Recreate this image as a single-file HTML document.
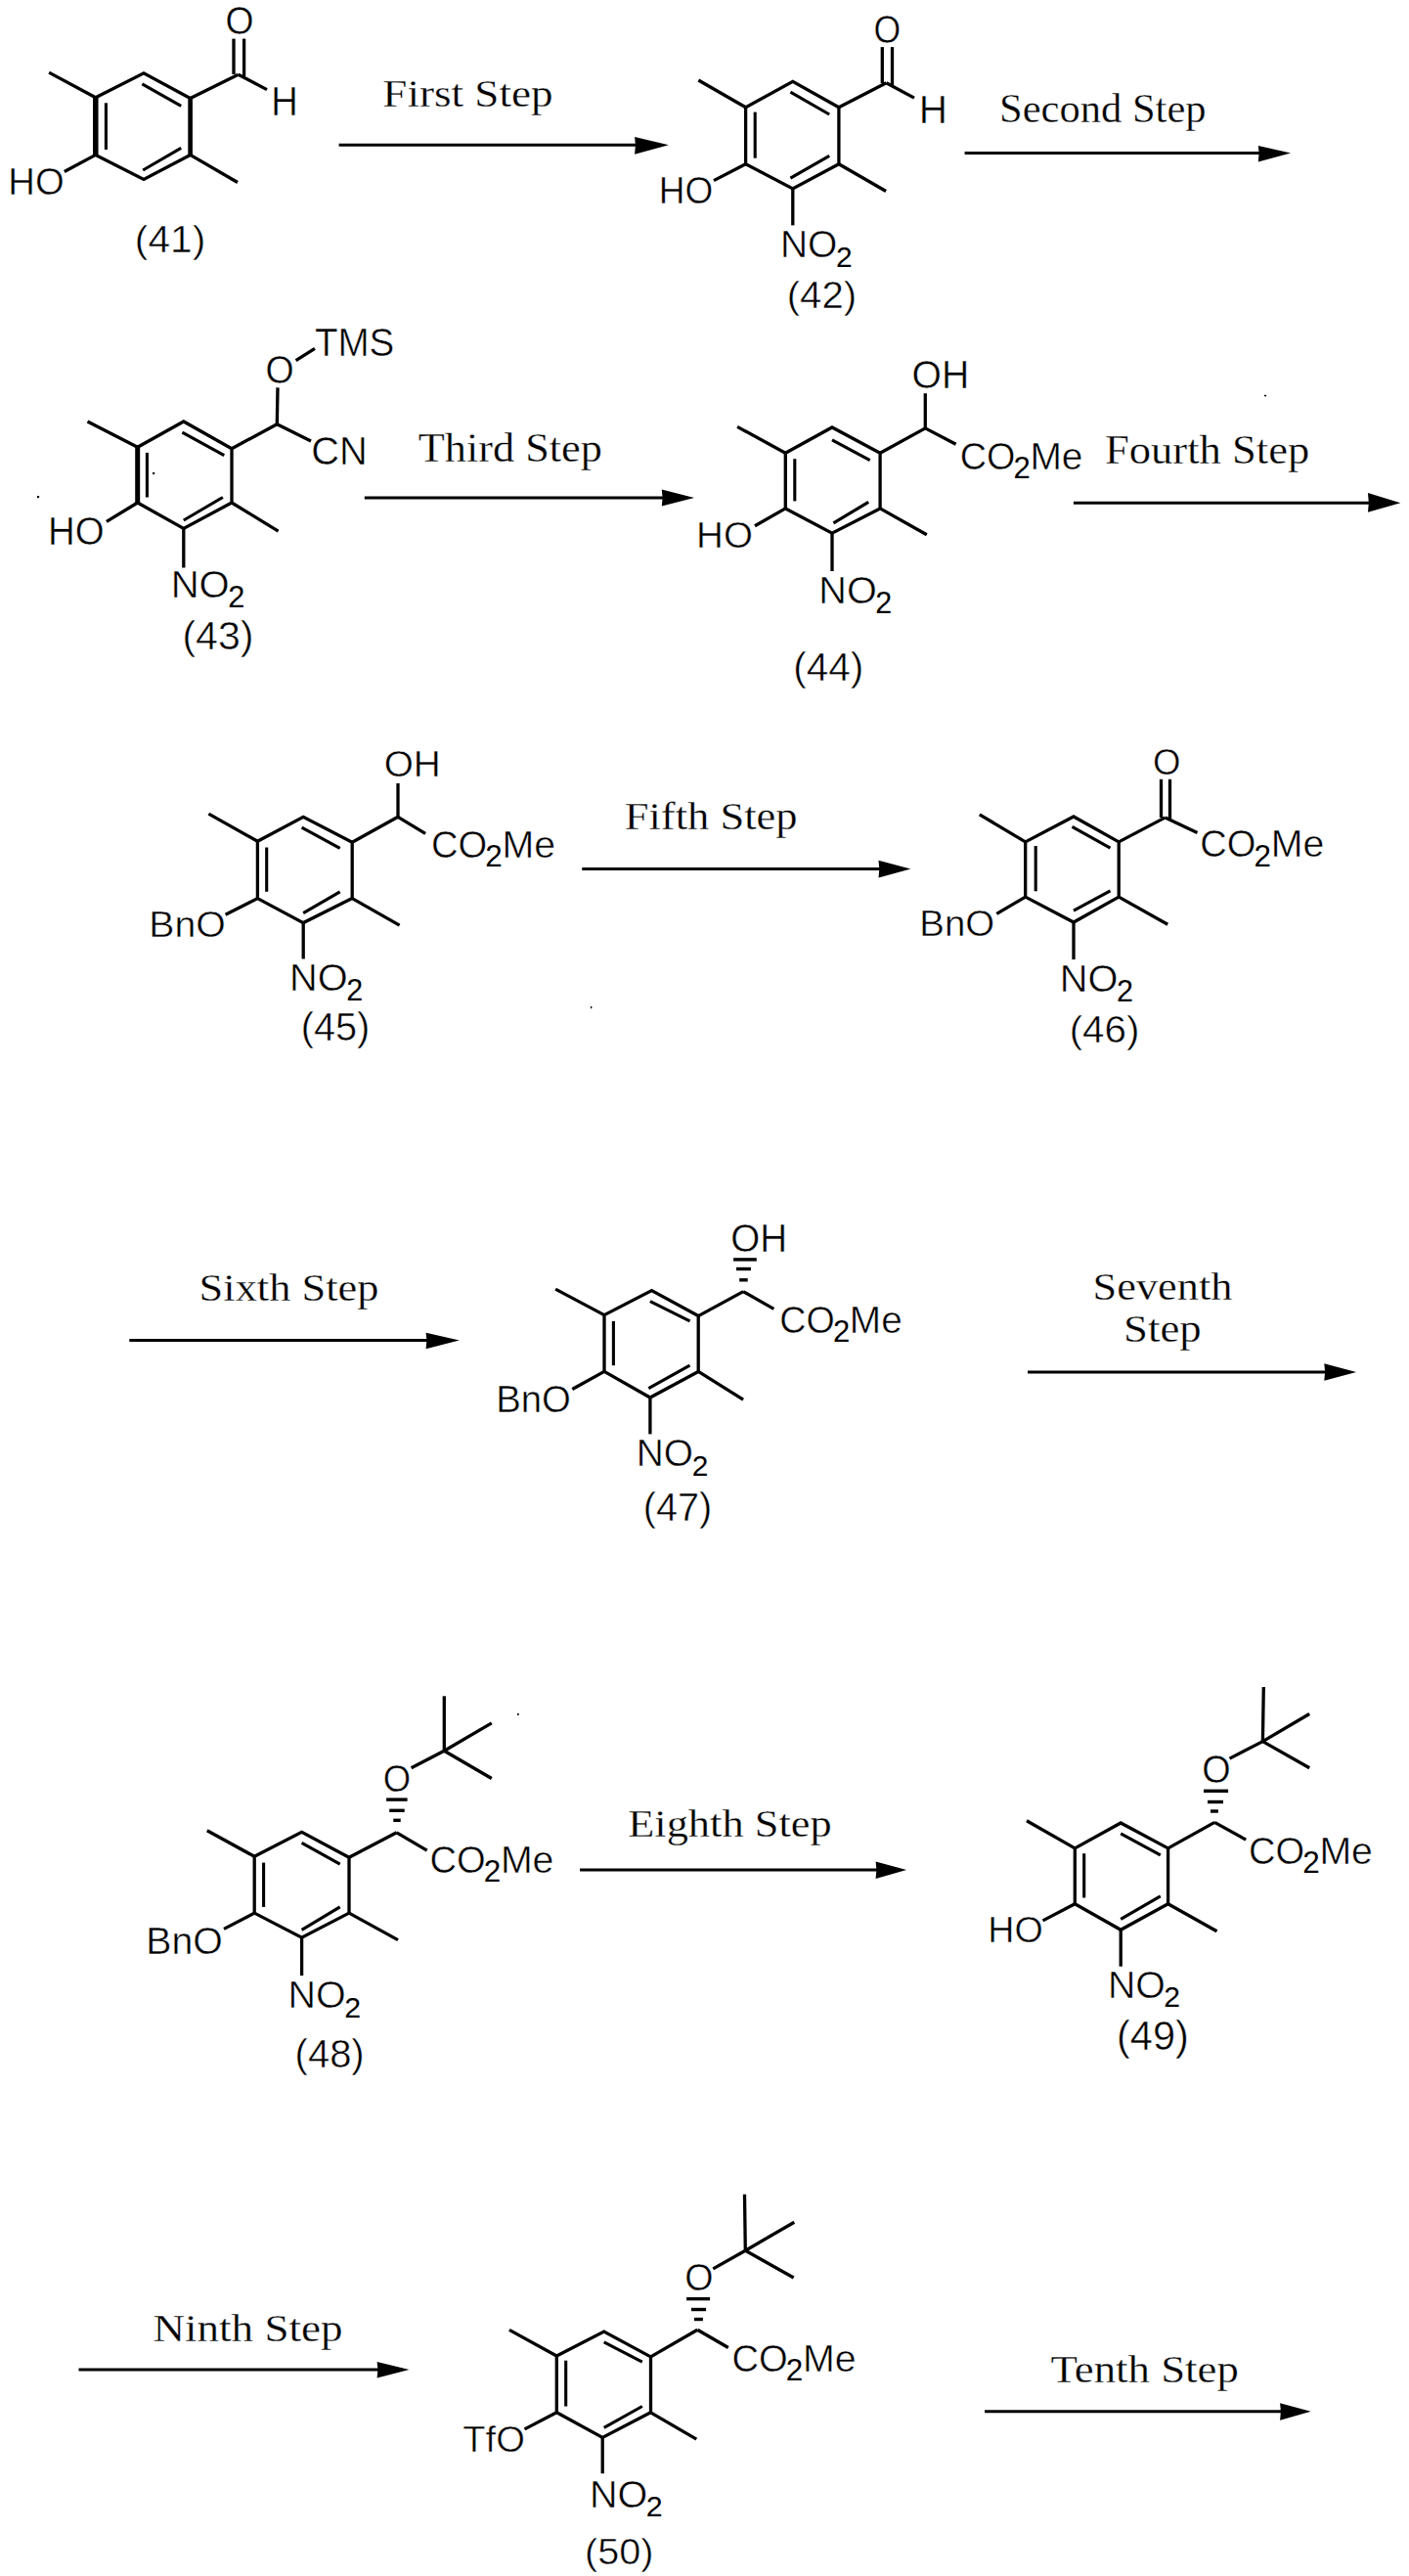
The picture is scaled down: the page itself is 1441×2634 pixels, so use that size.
<!DOCTYPE html>
<html><head><meta charset="utf-8"><style>
html,body{margin:0;padding:0;background:#fff;}
svg{display:block;}
line,path{stroke:#000;stroke-linecap:butt;}
path.ah{fill:#000;stroke:none;} path.ring{fill:none;}
text{fill:#000;}
</style></head><body>
<svg width="1441" height="2634" viewBox="0 0 1441 2634">
<rect width="1441" height="2634" fill="#fff"/>
<path class="ring" fill="none" stroke-linejoin="miter" d="M97.8,99.8 L147.0,74.8 L194.6,100.6 L194.6,158.4 L147.0,183.4 L97.8,158.4 Z" stroke-width="3.3"/>
<line x1="108.4" y1="105.3" x2="108.4" y2="153.0" stroke-width="3.1"/>
<line x1="145.4" y1="85.8" x2="185.2" y2="108.4" stroke-width="3.1"/>
<line x1="146.2" y1="174.0" x2="185.2" y2="151.4" stroke-width="3.1"/>
<line x1="97.8" y1="99.8" x2="50.1" y2="74.1" stroke-width="3.3"/>
<line x1="194.6" y1="100.6" x2="243.7" y2="76.2" stroke-width="3.3"/>
<line x1="239.0" y1="76.0" x2="239.0" y2="39.6" stroke-width="3.3"/>
<line x1="249.6" y1="78.0" x2="249.6" y2="39.6" stroke-width="3.3"/>
<line x1="243.7" y1="76.2" x2="273.0" y2="91.6" stroke-width="3.3"/>
<line x1="194.6" y1="158.4" x2="243.0" y2="186.5" stroke-width="3.3"/>
<line x1="97.8" y1="158.4" x2="65.8" y2="175.5" stroke-width="3.3"/>
<text x="230.43" y="35.39" font-family="Liberation Sans" stroke="#fff" stroke-width="0.5" font-size="41.52" textLength="29.06" lengthAdjust="spacingAndGlyphs">O</text>
<text x="277.17" y="118.40" font-family="Liberation Sans" stroke="#fff" stroke-width="0.5" font-size="42.73" textLength="27.54" lengthAdjust="spacingAndGlyphs">H</text>
<text x="8.36" y="198.91" font-family="Liberation Sans" stroke="#fff" stroke-width="0.5" font-size="39.69" textLength="57.37" lengthAdjust="spacingAndGlyphs">HO</text>
<text x="137.88" y="258.36" font-family="Liberation Sans" stroke="#fff" stroke-width="0.5" font-size="38.86" textLength="72.35" lengthAdjust="spacingAndGlyphs">(41)</text>
<line x1="346.6" y1="148.3" x2="653.1" y2="148.3" stroke-width="3.0"/>
<path class="ah" d="M649.1,139.9 L683.9,148.3 L649.1,157.8 L649.9,148.3 Z" stroke="none"/>
<text x="391.30" y="108.50" font-family="Liberation Serif" stroke="#fff" stroke-width="0.3" font-size="40.12" textLength="174.26" lengthAdjust="spacingAndGlyphs">First Step</text>
<path class="ring" fill="none" stroke-linejoin="miter" d="M762.6,109.8 L810.8,83.3 L857.9,109.8 L857.9,167.7 L810.8,193.0 L762.6,167.7 Z" stroke-width="3.3"/>
<line x1="772.2" y1="114.6" x2="772.2" y2="161.7" stroke-width="3.1"/>
<line x1="808.4" y1="94.1" x2="848.2" y2="117.0" stroke-width="3.1"/>
<line x1="808.4" y1="182.2" x2="848.2" y2="159.3" stroke-width="3.1"/>
<line x1="762.6" y1="109.8" x2="714.3" y2="82.0" stroke-width="3.3"/>
<line x1="857.9" y1="109.8" x2="906.4" y2="84.7" stroke-width="3.3"/>
<line x1="902.3" y1="85.0" x2="902.3" y2="48.1" stroke-width="3.3"/>
<line x1="912.5" y1="87.0" x2="912.5" y2="48.1" stroke-width="3.3"/>
<line x1="906.4" y1="84.7" x2="935.0" y2="100.1" stroke-width="3.3"/>
<line x1="857.9" y1="167.7" x2="906.1" y2="195.5" stroke-width="3.3"/>
<line x1="762.6" y1="167.7" x2="730.0" y2="184.6" stroke-width="3.3"/>
<line x1="810.8" y1="193.0" x2="810.8" y2="230.4" stroke-width="3.3"/>
<text x="893.61" y="43.51" font-family="Liberation Sans" stroke="#fff" stroke-width="0.5" font-size="40.40" textLength="27.69" lengthAdjust="spacingAndGlyphs">O</text>
<text x="939.68" y="125.60" font-family="Liberation Sans" stroke="#fff" stroke-width="0.5" font-size="40.12" textLength="29.22" lengthAdjust="spacingAndGlyphs">H</text>
<text x="673.86" y="207.63" font-family="Liberation Sans" stroke="#fff" stroke-width="0.5" font-size="38.14" textLength="55.51" lengthAdjust="spacingAndGlyphs">HO</text>
<text x="798.01" y="263.20" font-family="Liberation Sans" stroke="#fff" stroke-width="0.5" font-size="38.36" textLength="58.39" lengthAdjust="spacingAndGlyphs">NO</text>
<text x="854.95" y="272.79" font-family="Liberation Sans" font-size="29.93">2</text>
<text x="804.71" y="315.36" font-family="Liberation Sans" stroke="#fff" stroke-width="0.5" font-size="38.86" textLength="71.38" lengthAdjust="spacingAndGlyphs">(42)</text>
<line x1="986.6" y1="156.6" x2="1290.8" y2="156.6" stroke-width="3.0"/>
<path class="ah" d="M1286.8,149.0 L1320.0,156.6 L1286.8,165.6 L1287.6,156.6 Z" stroke="none"/>
<text x="1022.05" y="124.70" font-family="Liberation Serif" stroke="#fff" stroke-width="0.3" font-size="42.07" textLength="211.51" lengthAdjust="spacingAndGlyphs">Second Step</text>
<path class="ring" fill="none" stroke-linejoin="miter" d="M140.7,457.3 L187.8,431.0 L237.0,458.7 L237.0,514.0 L187.8,540.4 L140.7,514.0 Z" stroke-width="3.3"/>
<line x1="150.4" y1="462.9" x2="150.4" y2="508.5" stroke-width="3.1"/>
<line x1="186.4" y1="442.1" x2="229.3" y2="465.6" stroke-width="3.1"/>
<line x1="187.8" y1="532.0" x2="227.9" y2="508.5" stroke-width="3.1"/>
<line x1="140.7" y1="457.3" x2="89.5" y2="431.0" stroke-width="3.3"/>
<line x1="237.0" y1="458.7" x2="283.3" y2="433.8" stroke-width="3.3"/>
<line x1="283.3" y1="433.8" x2="284.0" y2="396.4" stroke-width="3.3"/>
<line x1="302.6" y1="368.7" x2="322.0" y2="356.3" stroke-width="3.3"/>
<line x1="283.3" y1="433.8" x2="318.0" y2="451.0" stroke-width="3.3"/>
<line x1="237.0" y1="514.0" x2="284.6" y2="543.1" stroke-width="3.3"/>
<line x1="140.7" y1="514.0" x2="108.9" y2="533.4" stroke-width="3.3"/>
<line x1="187.8" y1="540.4" x2="187.8" y2="580.5" stroke-width="3.3"/>
<text x="271.52" y="391.90" font-family="Liberation Sans" stroke="#fff" stroke-width="0.5" font-size="41.38" textLength="29.17" lengthAdjust="spacingAndGlyphs">O</text>
<text x="321.93" y="364.21" font-family="Liberation Sans" stroke="#fff" stroke-width="0.5" font-size="39.83" textLength="81.44" lengthAdjust="spacingAndGlyphs">TMS</text>
<text x="318.18" y="475.00" font-family="Liberation Sans" stroke="#fff" stroke-width="0.5" font-size="40.68" textLength="57.46" lengthAdjust="spacingAndGlyphs">CN</text>
<text x="48.95" y="556.60" font-family="Liberation Sans" stroke="#fff" stroke-width="0.5" font-size="41.10" textLength="57.59" lengthAdjust="spacingAndGlyphs">HO</text>
<text x="174.72" y="611.32" font-family="Liberation Sans" stroke="#fff" stroke-width="0.5" font-size="39.42" textLength="60.01" lengthAdjust="spacingAndGlyphs">NO</text>
<text x="233.23" y="621.17" font-family="Liberation Sans" font-size="30.76">2</text>
<text x="186.45" y="663.51" font-family="Liberation Sans" stroke="#fff" stroke-width="0.5" font-size="40.04" textLength="73.10" lengthAdjust="spacingAndGlyphs">(43)</text>
<line x1="372.8" y1="508.9" x2="680.8" y2="508.9" stroke-width="3.0"/>
<path class="ah" d="M676.8,500.5 L710.0,508.9 L676.8,517.6 L677.6,508.9 Z" stroke="none"/>
<text x="427.70" y="472.40" font-family="Liberation Serif" stroke="#fff" stroke-width="0.3" font-size="42.07" textLength="188.23" lengthAdjust="spacingAndGlyphs">Third Step</text>
<path class="ring" fill="none" stroke-linejoin="miter" d="M803.3,463.3 L851.0,437.0 L900.1,463.3 L900.1,519.9 L851.0,545.2 L803.3,519.9 Z" stroke-width="3.3"/>
<line x1="812.8" y1="469.2" x2="812.8" y2="512.4" stroke-width="3.1"/>
<line x1="851.0" y1="449.9" x2="889.7" y2="470.7" stroke-width="3.1"/>
<line x1="852.4" y1="534.8" x2="888.2" y2="513.3" stroke-width="3.1"/>
<line x1="803.3" y1="463.3" x2="754.1" y2="436.4" stroke-width="3.3"/>
<line x1="900.1" y1="463.3" x2="946.3" y2="437.9" stroke-width="3.3"/>
<line x1="946.3" y1="437.9" x2="946.3" y2="402.2" stroke-width="3.3"/>
<line x1="946.3" y1="437.9" x2="977.6" y2="454.3" stroke-width="3.3"/>
<line x1="900.1" y1="519.9" x2="947.8" y2="546.7" stroke-width="3.3"/>
<line x1="803.3" y1="519.9" x2="772.0" y2="537.8" stroke-width="3.3"/>
<line x1="851.0" y1="545.2" x2="851.0" y2="584.0" stroke-width="3.3"/>
<text x="932.55" y="397.31" font-family="Liberation Sans" stroke="#fff" stroke-width="0.5" font-size="39.97" textLength="58.64" lengthAdjust="spacingAndGlyphs">OH</text>
<text x="981.68" y="479.64" font-family="Liberation Sans" stroke="#fff" stroke-width="0.5" font-size="38.91" textLength="56.65" lengthAdjust="spacingAndGlyphs">CO</text>
<text x="1036.52" y="488.74" font-family="Liberation Sans" font-size="31.13">2</text>
<text x="1053.46" y="479.64" font-family="Liberation Sans" stroke="#fff" stroke-width="0.5" font-size="38.92">Me</text>
<text x="712.14" y="559.73" font-family="Liberation Sans" stroke="#fff" stroke-width="0.5" font-size="37.85" textLength="57.81" lengthAdjust="spacingAndGlyphs">HO</text>
<text x="837.25" y="616.85" font-family="Liberation Sans" stroke="#fff" stroke-width="0.5" font-size="39.09" textLength="59.50" lengthAdjust="spacingAndGlyphs">NO</text>
<text x="895.27" y="626.62" font-family="Liberation Sans" font-size="30.50">2</text>
<text x="811.18" y="696.41" font-family="Liberation Sans" stroke="#fff" stroke-width="0.5" font-size="40.04" textLength="72.13" lengthAdjust="spacingAndGlyphs">(44)</text>
<line x1="1097.9" y1="514.3" x2="1403.0" y2="514.3" stroke-width="3.0"/>
<path class="ah" d="M1399.0,504.0 L1432.3,514.3 L1399.0,523.8 L1399.8,514.3 Z" stroke="none"/>
<text x="1129.92" y="473.80" font-family="Liberation Serif" stroke="#fff" stroke-width="0.3" font-size="42.22" textLength="209.33" lengthAdjust="spacingAndGlyphs">Fourth Step</text>
<path class="ring" fill="none" stroke-linejoin="miter" d="M263.4,860.2 L310.2,835.3 L360.2,861.2 L360.2,918.6 L310.2,943.6 L263.4,918.6 Z" stroke-width="3.3"/>
<line x1="272.7" y1="866.5" x2="272.7" y2="911.8" stroke-width="3.1"/>
<line x1="308.6" y1="846.2" x2="347.7" y2="867.4" stroke-width="3.1"/>
<line x1="310.2" y1="933.6" x2="347.7" y2="911.8" stroke-width="3.1"/>
<line x1="263.4" y1="860.2" x2="213.4" y2="832.1" stroke-width="3.3"/>
<line x1="360.2" y1="861.2" x2="407.0" y2="835.3" stroke-width="3.3"/>
<line x1="407.0" y1="835.3" x2="407.0" y2="800.9" stroke-width="3.3"/>
<line x1="407.0" y1="835.3" x2="435.1" y2="852.4" stroke-width="3.3"/>
<line x1="360.2" y1="918.6" x2="408.6" y2="946.1" stroke-width="3.3"/>
<line x1="263.4" y1="918.6" x2="230.6" y2="935.2" stroke-width="3.3"/>
<line x1="310.2" y1="943.6" x2="310.2" y2="980.5" stroke-width="3.3"/>
<text x="392.67" y="794.33" font-family="Liberation Sans" stroke="#fff" stroke-width="0.5" font-size="37.57" textLength="58.09" lengthAdjust="spacingAndGlyphs">OH</text>
<text x="440.96" y="876.87" font-family="Liberation Sans" stroke="#fff" stroke-width="0.5" font-size="39.29" textLength="57.21" lengthAdjust="spacingAndGlyphs">CO</text>
<text x="496.34" y="886.07" font-family="Liberation Sans" font-size="31.44">2</text>
<text x="513.45" y="876.87" font-family="Liberation Sans" stroke="#fff" stroke-width="0.5" font-size="39.30">Me</text>
<text x="152.38" y="958.23" font-family="Liberation Sans" stroke="#fff" stroke-width="0.5" font-size="37.57" textLength="78.50" lengthAdjust="spacingAndGlyphs">BnO</text>
<text x="296.04" y="1013.47" font-family="Liberation Sans" stroke="#fff" stroke-width="0.5" font-size="39.14" textLength="59.58" lengthAdjust="spacingAndGlyphs">NO</text>
<text x="354.14" y="1023.26" font-family="Liberation Sans" font-size="30.54">2</text>
<text x="307.74" y="1064.27" font-family="Liberation Sans" stroke="#fff" stroke-width="0.5" font-size="40.25" textLength="70.52" lengthAdjust="spacingAndGlyphs">(45)</text>
<line x1="595.3" y1="888.5" x2="902.5" y2="888.5" stroke-width="3.0"/>
<path class="ah" d="M898.5,879.8 L931.3,888.5 L898.5,897.4 L899.3,888.5 Z" stroke="none"/>
<text x="638.72" y="848.30" font-family="Liberation Serif" stroke="#fff" stroke-width="0.3" font-size="40.57" textLength="176.82" lengthAdjust="spacingAndGlyphs">Fifth Step</text>
<path class="ring" fill="none" stroke-linejoin="miter" d="M1048.7,860.9 L1098.0,835.0 L1144.2,860.9 L1144.2,917.1 L1098.0,943.0 L1048.7,917.1 Z" stroke-width="3.3"/>
<line x1="1059.2" y1="865.0" x2="1059.2" y2="911.3" stroke-width="3.1"/>
<line x1="1096.5" y1="845.3" x2="1135.5" y2="867.1" stroke-width="3.1"/>
<line x1="1098.0" y1="931.1" x2="1135.5" y2="910.8" stroke-width="3.1"/>
<line x1="1048.7" y1="860.9" x2="1001.8" y2="832.8" stroke-width="3.3"/>
<line x1="1144.2" y1="860.9" x2="1191.7" y2="835.9" stroke-width="3.3"/>
<line x1="1187.5" y1="836.0" x2="1187.5" y2="796.8" stroke-width="3.3"/>
<line x1="1196.5" y1="838.0" x2="1196.5" y2="796.8" stroke-width="3.3"/>
<line x1="1191.7" y1="835.9" x2="1224.5" y2="851.5" stroke-width="3.3"/>
<line x1="1144.2" y1="917.1" x2="1194.2" y2="945.2" stroke-width="3.3"/>
<line x1="1048.7" y1="917.1" x2="1019.3" y2="934.3" stroke-width="3.3"/>
<line x1="1098.0" y1="943.0" x2="1098.0" y2="981.1" stroke-width="3.3"/>
<text x="1179.07" y="791.83" font-family="Liberation Sans" stroke="#fff" stroke-width="0.5" font-size="37.57" textLength="28.49" lengthAdjust="spacingAndGlyphs">O</text>
<text x="1227.26" y="876.41" font-family="Liberation Sans" stroke="#fff" stroke-width="0.5" font-size="39.26" textLength="57.16" lengthAdjust="spacingAndGlyphs">CO</text>
<text x="1282.59" y="885.60" font-family="Liberation Sans" font-size="31.41">2</text>
<text x="1299.69" y="876.41" font-family="Liberation Sans" stroke="#fff" stroke-width="0.5" font-size="39.27">Me</text>
<text x="940.25" y="957.33" font-family="Liberation Sans" stroke="#fff" stroke-width="0.5" font-size="37.57" textLength="76.89" lengthAdjust="spacingAndGlyphs">BnO</text>
<text x="1083.84" y="1014.14" font-family="Liberation Sans" stroke="#fff" stroke-width="0.5" font-size="39.20" textLength="59.67" lengthAdjust="spacingAndGlyphs">NO</text>
<text x="1142.02" y="1023.94" font-family="Liberation Sans" font-size="30.58">2</text>
<text x="1093.70" y="1065.77" font-family="Liberation Sans" stroke="#fff" stroke-width="0.5" font-size="39.29" textLength="71.70" lengthAdjust="spacingAndGlyphs">(46)</text>
<line x1="132.3" y1="1370.6" x2="439.6" y2="1370.6" stroke-width="3.0"/>
<path class="ah" d="M435.6,1362.7 L469.8,1370.6 L435.6,1379.3 L436.4,1370.6 Z" stroke="none"/>
<text x="203.63" y="1330.40" font-family="Liberation Serif" stroke="#fff" stroke-width="0.3" font-size="39.22" textLength="183.80" lengthAdjust="spacingAndGlyphs">Sixth Step</text>
<path class="ring" fill="none" stroke-linejoin="miter" d="M618.0,1344.6 L666.5,1319.6 L714.2,1345.6 L714.2,1402.4 L664.9,1429.0 L618.0,1402.4 Z" stroke-width="3.3"/>
<line x1="627.4" y1="1350.9" x2="627.4" y2="1396.2" stroke-width="3.1"/>
<line x1="664.9" y1="1330.6" x2="705.5" y2="1350.9" stroke-width="3.1"/>
<line x1="663.3" y1="1419.6" x2="705.5" y2="1396.2" stroke-width="3.1"/>
<line x1="618.0" y1="1344.6" x2="568.1" y2="1318.1" stroke-width="3.3"/>
<line x1="714.2" y1="1345.6" x2="760.1" y2="1320.6" stroke-width="3.3"/>
<rect x="750.1" y="1286.2" width="23.7" height="3.4"/>
<rect x="753.0" y="1295.8" width="14.9" height="3.4"/>
<rect x="756.2" y="1307.1" width="8.5" height="3.4"/>
<line x1="760.1" y1="1320.6" x2="791.4" y2="1338.4" stroke-width="3.3"/>
<line x1="714.2" y1="1402.4" x2="760.1" y2="1431.1" stroke-width="3.3"/>
<line x1="618.0" y1="1402.4" x2="585.3" y2="1420.5" stroke-width="3.3"/>
<line x1="664.9" y1="1429.0" x2="664.9" y2="1466.4" stroke-width="3.3"/>
<text x="747.27" y="1279.70" font-family="Liberation Sans" stroke="#fff" stroke-width="0.5" font-size="41.10" textLength="57.87" lengthAdjust="spacingAndGlyphs">OH</text>
<text x="797.29" y="1363.15" font-family="Liberation Sans" stroke="#fff" stroke-width="0.5" font-size="38.78" textLength="56.47" lengthAdjust="spacingAndGlyphs">CO</text>
<text x="851.94" y="1372.22" font-family="Liberation Sans" font-size="31.03">2</text>
<text x="868.83" y="1363.15" font-family="Liberation Sans" stroke="#fff" stroke-width="0.5" font-size="38.79">Me</text>
<text x="507.15" y="1444.21" font-family="Liberation Sans" stroke="#fff" stroke-width="0.5" font-size="39.69" textLength="76.78" lengthAdjust="spacingAndGlyphs">BnO</text>
<text x="650.81" y="1499.13" font-family="Liberation Sans" stroke="#fff" stroke-width="0.5" font-size="38.30" textLength="58.31" lengthAdjust="spacingAndGlyphs">NO</text>
<text x="707.67" y="1508.71" font-family="Liberation Sans" font-size="29.89">2</text>
<text x="657.74" y="1554.89" font-family="Liberation Sans" stroke="#fff" stroke-width="0.5" font-size="40.14" textLength="70.52" lengthAdjust="spacingAndGlyphs">(47)</text>
<line x1="1051.0" y1="1402.9" x2="1358.3" y2="1402.9" stroke-width="3.0"/>
<path class="ah" d="M1354.3,1394.2 L1387.1,1402.9 L1354.3,1411.8 L1355.1,1402.9 Z" stroke="none"/>
<text x="1117.64" y="1328.60" font-family="Liberation Serif" stroke="#fff" stroke-width="0.3" font-size="40.57" textLength="142.75" lengthAdjust="spacingAndGlyphs">Seventh</text>
<text x="1149.10" y="1372.40" font-family="Liberation Serif" stroke="#fff" stroke-width="0.3" font-size="39.97" textLength="79.65" lengthAdjust="spacingAndGlyphs">Step</text>
<path class="ring" fill="none" stroke-linejoin="miter" d="M260.2,1898.3 L308.6,1873.4 L357.0,1899.3 L357.0,1956.1 L308.6,1981.1 L260.2,1956.1 Z" stroke-width="3.3"/>
<line x1="269.6" y1="1904.6" x2="269.6" y2="1949.9" stroke-width="3.1"/>
<line x1="308.6" y1="1884.3" x2="347.7" y2="1906.2" stroke-width="3.1"/>
<line x1="308.6" y1="1973.3" x2="347.7" y2="1949.9" stroke-width="3.1"/>
<line x1="260.2" y1="1898.3" x2="211.8" y2="1871.8" stroke-width="3.3"/>
<line x1="357.0" y1="1899.3" x2="405.7" y2="1873.8" stroke-width="3.3"/>
<rect x="395.1" y="1838.4" width="21.5" height="3.4"/>
<rect x="398.2" y="1849.6" width="15.5" height="3.4"/>
<rect x="402.3" y="1859.6" width="7.4" height="3.4"/>
<line x1="420.6" y1="1807.8" x2="454.3" y2="1790.2" stroke-width="3.3"/>
<line x1="454.3" y1="1790.2" x2="454.3" y2="1734.3" stroke-width="3.3"/>
<line x1="454.3" y1="1790.2" x2="502.8" y2="1761.9" stroke-width="3.3"/>
<line x1="454.3" y1="1790.2" x2="502.8" y2="1818.5" stroke-width="3.3"/>
<line x1="405.7" y1="1873.8" x2="436.7" y2="1892.1" stroke-width="3.3"/>
<line x1="357.0" y1="1956.1" x2="407.0" y2="1983.6" stroke-width="3.3"/>
<line x1="260.2" y1="1956.1" x2="229.0" y2="1972.4" stroke-width="3.3"/>
<line x1="308.6" y1="1981.1" x2="308.6" y2="2020.1" stroke-width="3.3"/>
<text x="391.87" y="1832.32" font-family="Liberation Sans" stroke="#fff" stroke-width="0.5" font-size="38.98" textLength="28.37" lengthAdjust="spacingAndGlyphs">O</text>
<text x="439.46" y="1914.96" font-family="Liberation Sans" stroke="#fff" stroke-width="0.5" font-size="39.26" textLength="57.16" lengthAdjust="spacingAndGlyphs">CO</text>
<text x="494.79" y="1924.15" font-family="Liberation Sans" font-size="31.41">2</text>
<text x="511.89" y="1914.96" font-family="Liberation Sans" stroke="#fff" stroke-width="0.5" font-size="39.27">Me</text>
<text x="149.28" y="1997.91" font-family="Liberation Sans" stroke="#fff" stroke-width="0.5" font-size="39.69" textLength="78.50" lengthAdjust="spacingAndGlyphs">BnO</text>
<text x="294.46" y="2053.02" font-family="Liberation Sans" stroke="#fff" stroke-width="0.5" font-size="38.86" textLength="59.16" lengthAdjust="spacingAndGlyphs">NO</text>
<text x="352.15" y="2062.74" font-family="Liberation Sans" font-size="30.32">2</text>
<text x="301.62" y="2113.89" font-family="Liberation Sans" stroke="#fff" stroke-width="0.5" font-size="40.14" textLength="71.06" lengthAdjust="spacingAndGlyphs">(48)</text>
<line x1="593.1" y1="1911.9" x2="899.6" y2="1911.9" stroke-width="3.0"/>
<path class="ah" d="M895.6,1903.5 L927.1,1911.9 L895.6,1921.1 L896.4,1911.9 Z" stroke="none"/>
<text x="642.22" y="1878.30" font-family="Liberation Serif" stroke="#fff" stroke-width="0.3" font-size="40.12" textLength="208.41" lengthAdjust="spacingAndGlyphs">Eighth Step</text>
<path class="ring" fill="none" stroke-linejoin="miter" d="M1099.3,1889.9 L1146.2,1864.0 L1194.6,1889.9 L1194.6,1946.7 L1146.2,1973.3 L1099.3,1946.7 Z" stroke-width="3.3"/>
<line x1="1108.7" y1="1895.2" x2="1108.7" y2="1940.5" stroke-width="3.1"/>
<line x1="1146.2" y1="1874.9" x2="1186.8" y2="1896.8" stroke-width="3.1"/>
<line x1="1146.2" y1="1962.3" x2="1186.8" y2="1938.9" stroke-width="3.1"/>
<line x1="1099.3" y1="1889.9" x2="1050.0" y2="1861.8" stroke-width="3.3"/>
<line x1="1194.6" y1="1889.9" x2="1242.2" y2="1863.4" stroke-width="3.3"/>
<rect x="1231.0" y="1829.6" width="25.1" height="3.4"/>
<rect x="1235.0" y="1840.8" width="16.0" height="3.4"/>
<rect x="1238.0" y="1850.3" width="7.9" height="3.4"/>
<line x1="1257.5" y1="1798.1" x2="1291.4" y2="1780.6" stroke-width="3.3"/>
<line x1="1291.4" y1="1780.6" x2="1292.3" y2="1725.0" stroke-width="3.3"/>
<line x1="1291.4" y1="1780.6" x2="1339.2" y2="1752.5" stroke-width="3.3"/>
<line x1="1291.4" y1="1780.6" x2="1339.2" y2="1807.7" stroke-width="3.3"/>
<line x1="1242.2" y1="1863.4" x2="1274.2" y2="1881.1" stroke-width="3.3"/>
<line x1="1194.6" y1="1946.7" x2="1244.5" y2="1974.8" stroke-width="3.3"/>
<line x1="1099.3" y1="1946.7" x2="1066.5" y2="1963.9" stroke-width="3.3"/>
<line x1="1146.2" y1="1973.3" x2="1146.2" y2="2010.7" stroke-width="3.3"/>
<text x="1229.21" y="1823.19" font-family="Liberation Sans" stroke="#fff" stroke-width="0.5" font-size="41.52" textLength="29.40" lengthAdjust="spacingAndGlyphs">O</text>
<text x="1276.96" y="1905.56" font-family="Liberation Sans" stroke="#fff" stroke-width="0.5" font-size="39.26" textLength="57.16" lengthAdjust="spacingAndGlyphs">CO</text>
<text x="1332.29" y="1914.75" font-family="Liberation Sans" font-size="31.41">2</text>
<text x="1349.39" y="1905.56" font-family="Liberation Sans" stroke="#fff" stroke-width="0.5" font-size="39.27">Me</text>
<text x="1010.31" y="1986.34" font-family="Liberation Sans" stroke="#fff" stroke-width="0.5" font-size="36.58" textLength="56.49" lengthAdjust="spacingAndGlyphs">HO</text>
<text x="1132.98" y="2042.75" font-family="Liberation Sans" stroke="#fff" stroke-width="0.5" font-size="38.64" textLength="58.82" lengthAdjust="spacingAndGlyphs">NO</text>
<text x="1190.34" y="2052.41" font-family="Liberation Sans" font-size="30.15">2</text>
<text x="1142.02" y="2095.73" font-family="Liberation Sans" stroke="#fff" stroke-width="0.5" font-size="41.86" textLength="73.85" lengthAdjust="spacingAndGlyphs">(49)</text>
<line x1="80.5" y1="2423.0" x2="389.6" y2="2423.0" stroke-width="3.0"/>
<path class="ah" d="M385.6,2415.1 L418.5,2423.0 L385.6,2431.4 L386.4,2423.0 Z" stroke="none"/>
<text x="156.40" y="2393.60" font-family="Liberation Serif" stroke="#fff" stroke-width="0.3" font-size="40.42" textLength="194.26" lengthAdjust="spacingAndGlyphs">Ninth Step</text>
<path class="ring" fill="none" stroke-linejoin="miter" d="M569.3,2409.0 L617.7,2384.0 L665.5,2409.9 L665.5,2466.8 L616.2,2492.4 L569.3,2466.8 Z" stroke-width="3.3"/>
<line x1="578.7" y1="2413.7" x2="578.7" y2="2460.5" stroke-width="3.1"/>
<line x1="617.7" y1="2394.9" x2="656.8" y2="2415.2" stroke-width="3.1"/>
<line x1="617.7" y1="2482.4" x2="656.8" y2="2460.5" stroke-width="3.1"/>
<line x1="569.3" y1="2409.0" x2="520.9" y2="2382.4" stroke-width="3.3"/>
<line x1="665.5" y1="2409.9" x2="713.3" y2="2382.3" stroke-width="3.3"/>
<rect x="702.1" y="2348.9" width="24.0" height="3.4"/>
<rect x="707.0" y="2359.8" width="15.1" height="3.4"/>
<rect x="710.0" y="2369.8" width="8.9" height="3.4"/>
<line x1="729.3" y1="2319.9" x2="762.3" y2="2301.2" stroke-width="3.3"/>
<line x1="762.3" y1="2301.2" x2="761.5" y2="2243.8" stroke-width="3.3"/>
<line x1="762.3" y1="2301.2" x2="812.3" y2="2272.2" stroke-width="3.3"/>
<line x1="762.3" y1="2301.2" x2="811.7" y2="2329.0" stroke-width="3.3"/>
<line x1="713.3" y1="2382.3" x2="744.8" y2="2400.5" stroke-width="3.3"/>
<line x1="665.5" y1="2466.8" x2="712.3" y2="2494.2" stroke-width="3.3"/>
<line x1="569.3" y1="2466.8" x2="536.5" y2="2483.9" stroke-width="3.3"/>
<line x1="616.2" y1="2492.4" x2="616.2" y2="2529.2" stroke-width="3.3"/>
<text x="700.32" y="2342.22" font-family="Liberation Sans" stroke="#fff" stroke-width="0.5" font-size="38.98" textLength="29.28" lengthAdjust="spacingAndGlyphs">O</text>
<text x="748.46" y="2425.27" font-family="Liberation Sans" stroke="#fff" stroke-width="0.5" font-size="39.29" textLength="57.21" lengthAdjust="spacingAndGlyphs">CO</text>
<text x="803.84" y="2434.47" font-family="Liberation Sans" font-size="31.44">2</text>
<text x="820.95" y="2425.27" font-family="Liberation Sans" stroke="#fff" stroke-width="0.5" font-size="39.30">Me</text>
<text x="473.24" y="2507.05" font-family="Liberation Sans" stroke="#fff" stroke-width="0.5" font-size="36.27" textLength="63.58" lengthAdjust="spacingAndGlyphs">TfO</text>
<text x="602.96" y="2563.71" font-family="Liberation Sans" stroke="#fff" stroke-width="0.5" font-size="38.97" textLength="59.33" lengthAdjust="spacingAndGlyphs">NO</text>
<text x="660.81" y="2573.46" font-family="Liberation Sans" font-size="30.41">2</text>
<text x="598.04" y="2621.56" font-family="Liberation Sans" stroke="#fff" stroke-width="0.5" font-size="36.92" textLength="70.52" lengthAdjust="spacingAndGlyphs">(50)</text>
<line x1="1007.1" y1="2465.7" x2="1313.1" y2="2465.7" stroke-width="3.0"/>
<path class="ah" d="M1309.1,2457.2 L1340.6,2465.7 L1309.1,2474.8 L1309.9,2465.7 Z" stroke="none"/>
<text x="1074.50" y="2436.20" font-family="Liberation Serif" stroke="#fff" stroke-width="0.3" font-size="39.22" textLength="192.42" lengthAdjust="spacingAndGlyphs">Tenth Step</text>
<rect x="37.9" y="507" width="2.2" height="2.2"/>
<rect x="1292.9" y="403.8" width="2.2" height="1.5"/>
<rect x="603.9" y="1029" width="1.4" height="2.2"/>
<rect x="528.9" y="1752" width="1.8" height="1.8"/>
<line x1="97.8" y1="99.8" x2="97.8" y2="158.4" stroke-width="5.5"/>
<line x1="194.6" y1="100.6" x2="194.6" y2="158.4" stroke-width="4.6"/>
<line x1="140.7" y1="457.3" x2="140.7" y2="514.0" stroke-width="5.0"/>
<rect x="156" y="483" width="2.2" height="2"/>
</svg></body></html>
